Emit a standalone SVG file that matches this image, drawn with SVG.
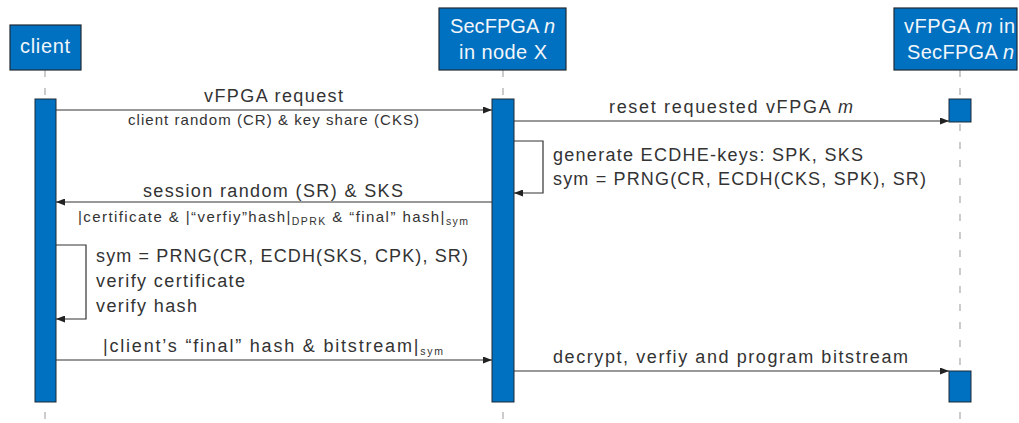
<svg xmlns="http://www.w3.org/2000/svg" width="1019" height="423" viewBox="0 0 1019 423">
  <defs>
    <marker id="arrow" viewBox="0 0 9 7" refX="9" refY="3.5" markerWidth="9" markerHeight="7" markerUnits="userSpaceOnUse" orient="auto">
      <path d="M0,0 L9,3.5 L0,7 Z" fill="#222"/>
    </marker>
    <style>
      .box{fill:#0070c0;stroke:#1e2a36;stroke-width:1.2}
      .act{fill:#0070c0;stroke:#1e2a36;stroke-width:1}
      .life{stroke:#aaa;stroke-width:1.2;stroke-dasharray:7 11;fill:none}
      .msg{stroke:#333;stroke-width:1.2;fill:none}
      text{font-family:"Liberation Sans",Arial,sans-serif;fill:#333}
      .hd{fill:#f2f6fa;font-size:20px}
      .lbl{font-size:18px}
      .sub{font-size:15px}
      .ss{font-size:10.5px}
    </style>
  </defs>

  <!-- lifelines -->
  <g id="lifelines">
    <line class="life" x1="45" y1="70" x2="45" y2="423"/>
    <line class="life" x1="503" y1="70" x2="503" y2="423"/>
    <line class="life" x1="960" y1="70" x2="960" y2="423"/>
  </g>

  <!-- participant: client -->
  <g id="client">
    <rect class="box" x="10" y="25" width="71" height="45"/>
    <text class="hd" x="20" y="53" textLength="50">client</text>
    <rect class="act" x="35" y="99" width="21" height="303"/>
  </g>

  <!-- participant: SecFPGA n in node X -->
  <g id="secfpga">
    <rect class="box" x="439" y="8" width="127" height="62"/>
    <text class="hd" x="450" y="33" textLength="105">SecFPGA <tspan font-style="italic">n</tspan></text>
    <text class="hd" x="459" y="59" textLength="88">in node X</text>
    <rect class="act" x="492" y="99" width="22" height="303"/>
  </g>

  <!-- participant: vFPGA m in SecFPGA n -->
  <g id="vfpga">
    <rect class="box" x="894" y="8" width="123" height="62"/>
    <text class="hd" x="904" y="33" textLength="111">vFPGA <tspan font-style="italic">m</tspan> in</text>
    <text class="hd" x="907" y="59" textLength="107">SecFPGA <tspan font-style="italic">n</tspan></text>
    <rect class="act" x="949" y="99" width="22" height="23"/>
    <rect class="act" x="949" y="371" width="22" height="31"/>
  </g>

  <!-- messages -->
  <g id="connectors">
    <line class="msg" x1="56" y1="110" x2="492" y2="110" marker-end="url(#arrow)"/>
    <line class="msg" x1="514" y1="121" x2="949" y2="121" marker-end="url(#arrow)"/>
    <path class="msg" d="M514,141 H543 V193 H514" marker-end="url(#arrow)"/>
    <line class="msg" x1="492" y1="202" x2="56" y2="202" marker-end="url(#arrow)"/>
    <path class="msg" d="M56,245 H86 V319 H56" marker-end="url(#arrow)"/>
    <line class="msg" x1="56" y1="360" x2="492" y2="360" marker-end="url(#arrow)"/>
    <line class="msg" x1="514" y1="371" x2="949" y2="371" marker-end="url(#arrow)"/>
  </g>

  <!-- message labels -->
  <g id="labels">
    <text class="lbl" x="204" y="102" textLength="139">vFPGA request</text>
    <text class="sub" x="128" y="125" textLength="291">client random (CR) &amp; key share (CKS)</text>
    <text class="lbl" x="609" y="113" textLength="244">reset requested vFPGA <tspan font-style="italic">m</tspan></text>
    <text class="lbl" x="553" y="161" textLength="310">generate ECDHE-keys: SPK, SKS</text>
    <text class="lbl" x="553" y="185" textLength="373">sym = PRNG(CR, ECDH(CKS, SPK), SR)</text>
    <text class="lbl" x="143" y="197" textLength="260">session random (SR) &amp; SKS</text>
    <text class="sub" x="78" y="222" textLength="390">|certificate &amp; |“verfiy”hash|<tspan class="ss" dy="3">DPRK</tspan><tspan dy="-3"> &amp; “final” hash|</tspan><tspan class="ss" dy="3">sym</tspan></text>
    <text class="lbl" x="96" y="262" textLength="372">sym = PRNG(CR, ECDH(SKS, CPK), SR)</text>
    <text class="lbl" x="96" y="287" textLength="149">verify certificate</text>
    <text class="lbl" x="96" y="312" textLength="101">verify hash</text>
    <text class="lbl" x="103" y="352" textLength="340">|client’s “final” hash &amp; bitstream|<tspan class="ss" dy="3" font-size="12.5px">sym</tspan></text>
    <text class="lbl" x="553" y="363" textLength="355">decrypt, verfiy and program bitstream</text>
  </g>
</svg>
